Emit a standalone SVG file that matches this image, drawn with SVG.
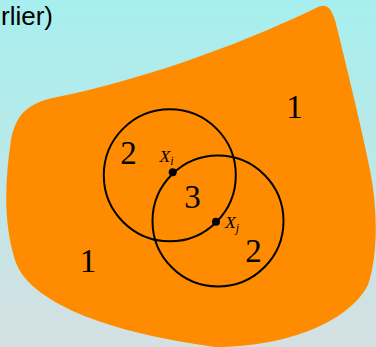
<svg xmlns="http://www.w3.org/2000/svg" width="376" height="347" viewBox="0 0 376 347">
<defs>
<linearGradient id="bg" x1="0" y1="0" x2="0" y2="1">
<stop offset="0" stop-color="#a6efee"/>
<stop offset="1" stop-color="#d5e0e2"/>
</linearGradient>
<style>
.num{font-family:"Liberation Serif","Times New Roman",serif;font-size:33px;fill:#000;text-anchor:middle}
.var{font-family:"Liberation Serif","Times New Roman",serif;font-style:italic;font-size:17.5px;fill:#000}
.sub{font-size:12px}
.ring{fill:none;stroke:#000;stroke-width:2}
.dot{fill:#000}
</style>
</defs>
<rect width="376" height="347" fill="url(#bg)"/>
<text x="53" y="25" font-family="'Liberation Sans',Arial,sans-serif" font-size="26" text-anchor="end" fill="#000">rlier)</text>
<g id="region">
<path fill="#ff8c00" d="M318,7 C230,50 130,82 62,96 C35,101 17,108 11,140 C5,180 3,222 15,260 C26,296 90,330 215,347 C290,347 350,320 368,285 C378,255 378,210 370,170 C362,130 345,60 335,20 C330,5 325,4 318,7 Z"/>
</g>
<g id="circle-i"><circle class="ring" cx="169.8" cy="175.3" r="66"/></g>
<g id="circle-j"><circle class="ring" cx="218" cy="221" r="65.5"/></g>
<g id="point-i"><circle class="dot" cx="172.7" cy="172.3" r="4"/><text class="var" x="159.5" y="162">X<tspan class="sub" dy="3">i</tspan></text></g>
<g id="point-j"><circle class="dot" cx="216" cy="221.7" r="4"/><text class="var" x="225" y="228">X<tspan class="sub" dy="4">j</tspan></text></g>
<g id="labels">
<text class="num" x="128.5" y="164">2</text>
<text class="num" x="192.5" y="208">3</text>
<text class="num" x="253.5" y="262">2</text>
<text class="num" x="294.5" y="118">1</text>
<text class="num" x="88" y="272">1</text>
</g>
</svg>
